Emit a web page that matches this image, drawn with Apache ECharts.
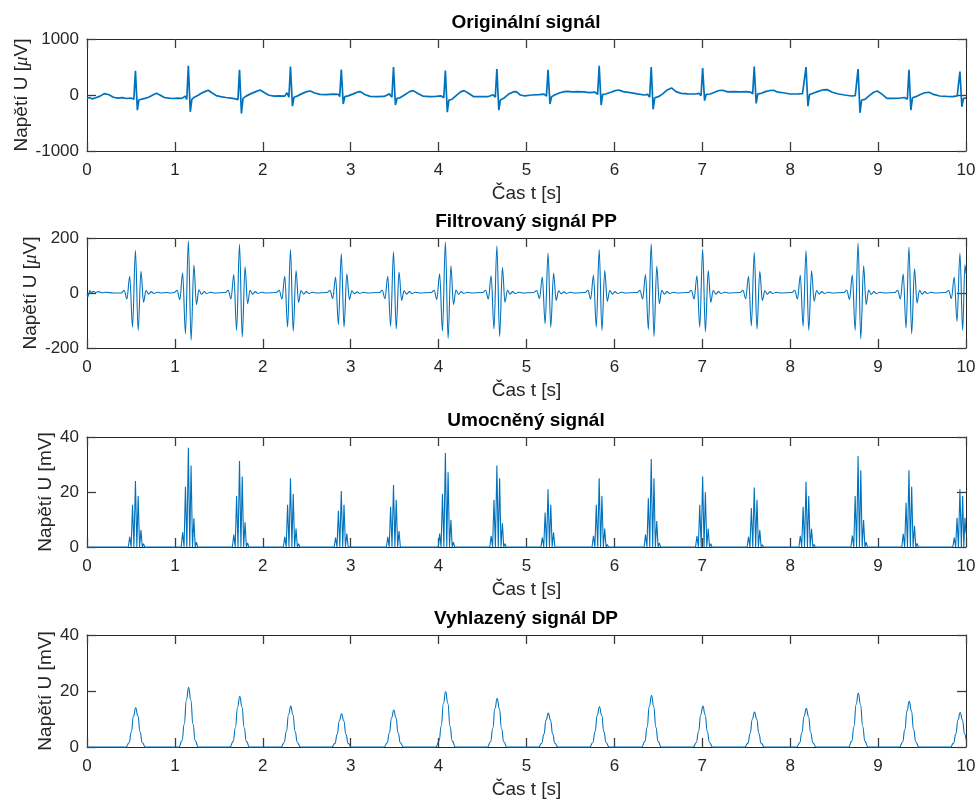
<!DOCTYPE html>
<html>
<head>
<meta charset="utf-8">
<script src="https://cdn.jsdelivr.net/npm/echarts@6/dist/echarts.min.js"></script>
<style>
  html, body { margin: 0; padding: 0; background: #fff; }
  #chart { width: 976px; height: 801px; }
</style>
</head>
<body>
<div id="chart"></div>
<script>
// popisky
var panelTitles = ['Originální signál', 'Filtrovaný signál PP', 'Umocněný signál', 'Vyhlazený signál DP'];
var xName = 'Čas t [s]';
var yNames = ['Napětí U [{m|μ}V]', 'Napětí U [{m|μ}V]', 'Napětí U [mV]', 'Napětí U [mV]'];
var yMin = [-1000, -200, 0, 0];
var yMax = [1000, 200, 40, 40];
var yStep = [1000, 200, 20, 20];

// originální signál [s, uV]
var origPts = [
  [0,-60],[0.03,-45],[0.06,-70],[0.1,-50],[0.15,-20],[0.2,25],[0.25,5],[0.3,-40],[0.35,-55],[0.4,-48],[0.45,-62],[0.5,-55],
  [0.515,-30],[0.533,-75],[0.551,432],[0.573,-270],[0.59,-90],[0.62,-75],[0.66,-60],[0.7,-40],[0.75,0],[0.79,30],[0.83,0],[0.88,-45],[0.93,-55],[0.98,-62],[1.03,-55],[1.08,-60],[1.117,-20],[1.135,-80],
  [1.153,522],[1.175,-300],[1.193,-80],[1.22,-40],[1.26,-10],[1.3,30],[1.34,60],[1.38,84],[1.42,40],[1.47,-10],[1.52,-30],[1.58,-45],[1.64,-55],[1.69,-70],[1.717,-85],
  [1.735,450],[1.757,-330],[1.775,-60],[1.81,-20],[1.86,20],[1.92,60],[1.97,90],[2.02,40],[2.07,-5],[2.13,-20],[2.19,-15],[2.25,-20],[2.275,40],[2.297,-40],
  [2.315,510],[2.337,-200],[2.355,-40],[2.39,-20],[2.44,20],[2.5,60],[2.54,72],[2.59,35],[2.65,10],[2.72,5],[2.8,15],[2.86,10],[2.875,-30],
  [2.893,456],[2.915,-160],[2.933,-30],[2.97,-15],[3.03,20],[3.08,55],[3.11,60],[3.16,10],[3.22,-25],[3.3,-30],[3.38,-25],[3.44,20],[3.469,-40],
  [3.487,498],[3.509,-180],[3.527,-60],[3.56,-50],[3.62,10],[3.67,60],[3.71,78],[3.76,30],[3.82,-20],[3.9,-30],[3.97,-25],[4.03,-15],[4.059,-50],
  [4.077,438],[4.099,-306],[4.117,-90],[4.15,-80],[4.2,-10],[4.25,55],[4.29,78],[4.34,30],[4.4,-30],[4.48,-30],[4.56,-30],[4.62,5],[4.645,-40],
  [4.663,462],[4.685,-270],[4.703,-90],[4.74,-60],[4.8,20],[4.85,55],[4.884,60],[4.93,0],[4.98,-15],[5.06,0],[5.14,5],[5.2,15],[5.227,-20],
  [5.245,450],[5.267,-160],[5.285,-30],[5.32,0],[5.38,40],[5.43,60],[5.47,66],[5.52,55],[5.58,60],[5.65,55],[5.72,42],[5.78,50],[5.809,10],
  [5.827,522],[5.849,-180],[5.867,10],[5.9,18],[5.96,50],[6.01,78],[6.05,90],[6.1,60],[6.18,42],[6.26,20],[6.34,0],[6.38,10],[6.401,-40],
  [6.419,498],[6.441,-258],[6.459,-50],[6.5,-30],[6.55,20],[6.6,90],[6.65,126],[6.7,60],[6.76,30],[6.84,20],[6.92,18],[6.96,30],[6.986,-10],
  [7.004,480],[7.026,-100],[7.044,10],[7.09,18],[7.14,50],[7.19,80],[7.23,84],[7.29,55],[7.36,60],[7.44,55],[7.5,60],[7.55,50],[7.573,20],
  [7.591,510],[7.613,-150],[7.631,20],[7.67,30],[7.72,60],[7.77,80],[7.81,84],[7.86,50],[7.92,40],[8.0,18],[8.08,18],[8.14,25],[8.162,-10],
  [8.18,498],[8.202,-200],[8.22,10],[8.26,30],[8.31,60],[8.37,90],[8.42,96],[8.48,50],[8.55,18],[8.62,0],[8.7,-18],[8.74,-10],[8.754,-40],
  [8.772,462],[8.794,-318],[8.812,-90],[8.85,-78],[8.9,-10],[8.95,50],[8.99,72],[9.04,20],[9.1,-60],[9.17,-62],[9.24,-58],[9.3,-45],[9.333,-75],
  [9.351,450],[9.373,-270],[9.391,-50],[9.43,-30],[9.48,10],[9.53,40],[9.58,48],[9.63,10],[9.7,-18],[9.78,-25],[9.85,-30],[9.9,-15],[9.913,-50],
  [9.931,420],[9.953,-210],[9.971,-60],[10,-55]
];

// filtrovaný signál PP [s, uV]
var filtPts = [
  [0,-4],[0.012,-14],[0.03,9],[0.05,1],[0.07,6],[0.1,2],[0.13,5],[0.17,1],[0.21,3],[0.3,0],
  [0.39,0],[0.423,10],[0.454,-22],[0.486,61],[0.518,-124],[0.551,155],[0.582,-136],[0.614,79],[0.643,-34],[0.671,9],[0.701,-4],[0.731,5],[0.761,-2],[0.801,3],[0.841,0],[0.9,2],[0.95,0],
  [0.993,2],[1.025,10],[1.056,-24],[1.088,73],[1.120,-148],[1.153,190],[1.184,-172],[1.216,102],[1.245,-42],[1.273,12],[1.303,-5],[1.333,5],[1.363,-2],[1.403,3],[1.443,0],
  [1.575,2],[1.607,10],[1.638,-22],[1.670,67],[1.702,-136],[1.735,177],[1.766,-160],[1.798,95],[1.827,-39],[1.855,10],[1.885,-4],[1.915,5],[1.945,-2],[1.985,3],[2.025,0],
  [2.155,2],[2.187,10],[2.218,-22],[2.250,61],[2.282,-124],[2.315,158],[2.346,-139],[2.378,82],[2.407,-34],[2.435,9],[2.465,-4],[2.495,5],[2.525,-2],[2.565,3],[2.605,0],
  [2.733,2],[2.765,9],[2.796,-20],[2.828,58],[2.860,-115],[2.893,143],[2.924,-124],[2.956,70],[2.985,-24],[3.013,8],[3.043,-3],[3.073,4],[3.103,-2],[3.143,3],[3.183,0],
  [3.327,2],[3.359,10],[3.390,-21],[3.422,61],[3.454,-121],[3.487,150],[3.518,-131],[3.550,76],[3.579,-27],[3.607,8],[3.637,-4],[3.667,5],[3.697,-2],[3.737,3],[3.777,0],
  [3.917,2],[3.949,10],[3.980,-23],[4.012,70],[4.044,-139],[4.077,185],[4.108,-165],[4.140,99],[4.169,-42],[4.197,11],[4.227,-5],[4.257,5],[4.287,-2],[4.327,3],[4.367,0],
  [4.503,2],[4.535,10],[4.566,-22],[4.598,63],[4.630,-131],[4.663,172],[4.694,-158],[4.726,93],[4.755,-34],[4.783,10],[4.813,-4],[4.843,5],[4.873,-2],[4.913,3],[4.953,0],
  [5.085,2],[5.117,9],[5.148,-20],[5.180,58],[5.212,-112],[5.245,145],[5.276,-124],[5.308,73],[5.337,-27],[5.365,8],[5.395,-3],[5.425,4],[5.455,-2],[5.495,3],[5.535,0],
  [5.667,2],[5.699,10],[5.730,-22],[5.762,64],[5.794,-124],[5.827,158],[5.858,-136],[5.890,82],[5.919,-30],[5.947,9],[5.977,-4],[6.007,5],[6.037,-2],[6.077,3],[6.117,0],
  [6.259,2],[6.291,10],[6.322,-22],[6.354,67],[6.386,-133],[6.419,179],[6.450,-158],[6.482,97],[6.511,-39],[6.539,10],[6.569,-4],[6.599,5],[6.629,-2],[6.669,3],[6.709,0],
  [6.844,2],[6.876,10],[6.907,-22],[6.939,63],[6.971,-124],[7.004,160],[7.035,-141],[7.067,82],[7.096,-34],[7.124,9],[7.154,-4],[7.184,5],[7.214,-2],[7.254,3],[7.294,0],
  [7.431,2],[7.463,10],[7.494,-21],[7.526,61],[7.558,-119],[7.591,147],[7.622,-131],[7.654,79],[7.683,-28],[7.711,8],[7.741,-4],[7.771,5],[7.801,-2],[7.841,3],[7.881,0],
  [8.020,2],[8.052,10],[8.083,-22],[8.115,64],[8.147,-121],[8.180,154],[8.211,-136],[8.243,81],[8.272,-30],[8.300,9],[8.330,-4],[8.360,5],[8.390,-2],[8.430,3],[8.470,0],
  [8.612,2],[8.644,10],[8.675,-23],[8.707,65],[8.739,-136],[8.772,182],[8.803,-167],[8.835,99],[8.864,-42],[8.892,11],[8.922,-5],[8.952,5],[8.982,-2],[9.022,3],[9.062,0],
  [9.191,2],[9.223,10],[9.254,-22],[9.286,69],[9.318,-127],[9.351,167],[9.382,-148],[9.414,88],[9.443,-36],[9.471,10],[9.501,-4],[9.531,5],[9.561,-2],[9.601,3],[9.641,0],
  [9.771,2],[9.803,9],[9.834,-20],[9.866,58],[9.898,-103],[9.931,145],[9.962,-136],[9.988,103],[10,70]
];

// umocněný signál [s, mV]
var sqPts = [
  [0,0],
  [0.439,0],[0.454,0.5],[0.470,0],[0.486,3.7],[0.502,0],[0.518,15.4],[0.534,0],[0.551,24.0],[0.567,0],[0.582,18.5],[0.598,0],[0.614,6.2],[0.629,0],[0.643,1.2],[0.657,0],
  [1.041,0],[1.056,0.6],[1.072,0],[1.088,5.3],[1.104,0],[1.120,21.9],[1.136,0],[1.153,36.1],[1.169,0],[1.184,29.6],[1.200,0],[1.216,10.4],[1.231,0],[1.245,1.8],[1.259,0],
  [1.623,0],[1.638,0.5],[1.654,0],[1.670,4.5],[1.686,0],[1.702,18.5],[1.718,0],[1.735,31.3],[1.751,0],[1.766,25.6],[1.782,0],[1.798,9.0],[1.813,0],[1.827,1.5],[1.841,0],
  [2.203,0],[2.218,0.5],[2.234,0],[2.250,3.7],[2.266,0],[2.282,15.4],[2.298,0],[2.315,25.0],[2.331,0],[2.346,19.3],[2.362,0],[2.378,6.7],[2.393,0],[2.407,1.2],[2.421,0],
  [2.781,0],[2.796,0.4],[2.812,0],[2.828,3.4],[2.844,0],[2.860,13.2],[2.876,0],[2.893,20.4],[2.909,0],[2.924,15.4],[2.940,0],[2.956,4.9],[2.971,0],[2.985,0.6],[2.999,0],
  [3.375,0],[3.390,0.4],[3.406,0],[3.422,3.7],[3.438,0],[3.454,14.6],[3.470,0],[3.487,22.5],[3.503,0],[3.518,17.2],[3.534,0],[3.550,5.8],[3.565,0],[3.579,0.7],[3.593,0],
  [3.965,0],[3.980,0.5],[3.996,0],[4.012,4.9],[4.028,0],[4.044,19.3],[4.060,0],[4.077,34.2],[4.093,0],[4.108,27.2],[4.124,0],[4.140,9.8],[4.155,0],[4.169,1.8],[4.183,0],
  [4.551,0],[4.566,0.5],[4.582,0],[4.598,4.0],[4.614,0],[4.630,17.2],[4.646,0],[4.663,29.6],[4.679,0],[4.694,25.0],[4.710,0],[4.726,8.6],[4.741,0],[4.755,1.2],[4.769,0],
  [5.133,0],[5.148,0.4],[5.164,0],[5.180,3.4],[5.196,0],[5.212,12.5],[5.228,0],[5.245,21.0],[5.261,0],[5.276,15.4],[5.292,0],[5.308,5.3],[5.323,0],[5.337,0.7],[5.351,0],
  [5.715,0],[5.730,0.5],[5.746,0],[5.762,4.1],[5.778,0],[5.794,15.4],[5.810,0],[5.827,25.0],[5.843,0],[5.858,18.5],[5.874,0],[5.890,6.7],[5.905,0],[5.919,0.9],[5.933,0],
  [6.307,0],[6.322,0.5],[6.338,0],[6.354,4.5],[6.370,0],[6.386,17.7],[6.402,0],[6.419,32.0],[6.435,0],[6.450,25.0],[6.466,0],[6.482,9.4],[6.497,0],[6.511,1.5],[6.525,0],
  [6.892,0],[6.907,0.5],[6.923,0],[6.939,4.0],[6.955,0],[6.971,15.4],[6.987,0],[7.004,25.6],[7.020,0],[7.035,19.9],[7.051,0],[7.067,6.7],[7.082,0],[7.096,1.2],[7.110,0],
  [7.479,0],[7.494,0.4],[7.510,0],[7.526,3.7],[7.542,0],[7.558,14.2],[7.574,0],[7.591,21.6],[7.607,0],[7.622,17.2],[7.638,0],[7.654,6.2],[7.669,0],[7.683,0.8],[7.697,0],
  [8.068,0],[8.083,0.5],[8.099,0],[8.115,4.1],[8.131,0],[8.147,14.6],[8.163,0],[8.180,23.7],[8.196,0],[8.211,18.5],[8.227,0],[8.243,6.6],[8.258,0],[8.272,0.9],[8.286,0],
  [8.660,0],[8.675,0.5],[8.691,0],[8.707,4.2],[8.723,0],[8.739,18.5],[8.755,0],[8.772,33.1],[8.788,0],[8.803,27.9],[8.819,0],[8.835,9.8],[8.850,0],[8.864,1.8],[8.878,0],
  [9.239,0],[9.254,0.5],[9.270,0],[9.286,4.8],[9.302,0],[9.318,16.1],[9.334,0],[9.351,27.9],[9.367,0],[9.382,21.9],[9.398,0],[9.414,7.7],[9.429,0],[9.443,1.3],[9.457,0],
  [9.819,0],[9.834,0.4],[9.850,0],[9.866,3.4],[9.882,0],[9.898,10.6],[9.914,0],[9.931,21.0],[9.947,0],[9.962,18.5],[9.975,0],[9.988,10.6],[10,4.9]
];

// vyhlazený signál DP [s, mV]
var smoothPts = [
  [0,0],
  [0.444,0],[0.479,1.5],[0.504,5.3],[0.529,11.1],[0.554,14.0],[0.579,11.1],[0.604,5.3],[0.629,1.5],[0.664,0],
  [1.046,0],[1.081,2.3],[1.106,8.1],[1.131,16.8],[1.156,21.3],[1.181,16.8],[1.206,8.1],[1.231,2.3],[1.266,0],
  [1.628,0],[1.663,2.0],[1.688,6.9],[1.713,14.3],[1.738,18.1],[1.763,14.3],[1.788,6.9],[1.813,2.0],[1.848,0],
  [2.208,0],[2.243,1.6],[2.268,5.5],[2.293,11.5],[2.318,14.6],[2.343,11.5],[2.368,5.5],[2.393,1.6],[2.428,0],
  [2.786,0],[2.821,1.3],[2.846,4.5],[2.871,9.4],[2.896,11.9],[2.921,9.4],[2.946,4.5],[2.971,1.3],[3.006,0],
  [3.380,0],[3.415,1.5],[3.440,5.0],[3.465,10.4],[3.490,13.2],[3.515,10.4],[3.540,5.0],[3.565,1.5],[3.600,0],
  [3.970,0],[4.005,2.2],[4.030,7.5],[4.055,15.6],[4.080,19.8],[4.105,15.6],[4.130,7.5],[4.155,2.2],[4.190,0],
  [4.556,0],[4.591,1.9],[4.616,6.6],[4.641,13.7],[4.666,17.4],[4.691,13.7],[4.716,6.6],[4.741,1.9],[4.776,0],
  [5.138,0],[5.173,1.3],[5.198,4.6],[5.223,9.6],[5.248,12.1],[5.273,9.6],[5.298,4.6],[5.323,1.3],[5.358,0],
  [5.720,0],[5.755,1.6],[5.780,5.5],[5.805,11.4],[5.830,14.4],[5.855,11.4],[5.880,5.5],[5.905,1.6],[5.940,0],
  [6.312,0],[6.347,2.0],[6.372,7.0],[6.397,14.5],[6.422,18.4],[6.447,14.5],[6.472,7.0],[6.497,2.0],[6.532,0],
  [6.897,0],[6.932,1.6],[6.957,5.5],[6.982,11.5],[7.007,14.6],[7.032,11.5],[7.057,5.5],[7.082,1.6],[7.117,0],
  [7.484,0],[7.519,1.4],[7.544,4.8],[7.569,9.9],[7.594,12.5],[7.619,9.9],[7.644,4.8],[7.669,1.4],[7.704,0],
  [8.073,0],[8.108,1.5],[8.133,5.2],[8.158,10.9],[8.183,13.8],[8.208,10.9],[8.233,5.2],[8.258,1.5],[8.293,0],
  [8.665,0],[8.700,2.1],[8.725,7.3],[8.750,15.2],[8.775,19.3],[8.800,15.2],[8.825,7.3],[8.850,2.1],[8.885,0],
  [9.244,0],[9.279,1.8],[9.304,6.2],[9.329,12.9],[9.354,16.3],[9.379,12.9],[9.404,6.2],[9.429,1.8],[9.464,0],
  [9.824,0],[9.859,1.4],[9.884,4.7],[9.909,9.7],[9.934,12.3],[9.959,9.7],[9.984,4.7],[10,2.6]
];

var seriesData = [origPts, filtPts, sqPts, smoothPts];

var FONT = 'Liberation Sans, Arial, sans-serif';
var AX = '#262626';
var TICK = '#3c3c3c';
var BLUE = '#0072BD';

// rozmístění panelů (px)
var gridTop = [39, 238, 437, 635];
var gridH = [112, 110, 110, 112];
var yNameGap = [56, 47, 32, 32];

var chart = echarts.init(document.getElementById('chart'), null, { renderer: 'canvas' });

var grids = [], xAxes = [], yAxes = [], series = [], graphics = [];
for (var i = 0; i < 4; i++) {
  grids.push({ left: 87, right: 10, top: gridTop[i], height: gridH[i], containLabel: false, outerBoundsMode: 'none' });
}
function plain(v) { return String(v); }
// spodní osy x
for (var i = 0; i < 4; i++) {
  xAxes.push({
    type: 'value', gridIndex: i, min: 0, max: 10, interval: 1, position: 'bottom',
    name: xName, nameLocation: 'middle', nameGap: 33, nameMoveOverlap: false,
    nameTextStyle: { color: AX, fontSize: 19, fontFamily: FONT },
    axisLine: { show: true, onZero: false, lineStyle: { color: AX, width: 1 } },
    axisTick: { show: true, inside: true, length: 9, lineStyle: { color: TICK, width: 1.3 } },
    axisLabel: { color: AX, fontSize: 17, fontFamily: FONT, margin: 11, formatter: plain },
    splitLine: { show: false }
  });
}
// horní osy x (jen rámeček a ticky)
for (var i = 0; i < 4; i++) {
  xAxes.push({
    type: 'value', gridIndex: i, min: 0, max: 10, interval: 1, position: 'top',
    axisLine: { show: true, onZero: false, lineStyle: { color: AX, width: 1 } },
    axisTick: { show: true, inside: true, length: 9, lineStyle: { color: TICK, width: 1.3 } },
    axisLabel: { show: false }, splitLine: { show: false }
  });
}
for (var i = 0; i < 4; i++) {
  yAxes.push({
    type: 'value', gridIndex: i, min: yMin[i], max: yMax[i], interval: yStep[i], position: 'left',
    name: yNames[i], nameLocation: 'middle', nameGap: yNameGap[i], nameMoveOverlap: false,
    nameTextStyle: {
      color: AX, fontSize: 19, fontFamily: FONT,
      rich: { m: { fontSize: 19, fontStyle: 'italic', fontFamily: 'Liberation Serif, serif', color: AX } }
    },
    axisLine: { show: true, onZero: false, lineStyle: { color: AX, width: 1 } },
    axisTick: { show: true, inside: true, length: 9, lineStyle: { color: TICK, width: 1.3 } },
    axisLabel: { color: AX, fontSize: 17, fontFamily: FONT, margin: 8, formatter: plain },
    splitLine: { show: false }
  });
}
for (var i = 0; i < 4; i++) {
  yAxes.push({
    type: 'value', gridIndex: i, min: yMin[i], max: yMax[i], interval: yStep[i], position: 'right',
    axisLine: { show: true, onZero: false, lineStyle: { color: AX, width: 1 } },
    axisTick: { show: true, inside: true, length: 9, lineStyle: { color: TICK, width: 1.3 } },
    axisLabel: { show: false }, splitLine: { show: false }
  });
}
for (var i = 0; i < 4; i++) {
  series.push({
    type: 'line', xAxisIndex: i, yAxisIndex: i, data: seriesData[i],
    showSymbol: false, symbol: 'none', clip: false, z: 5,
    smooth: (i === 1 ? 0.35 : (i === 3 ? 0.5 : false)), smoothMonotone: 'x',
    lineStyle: { color: BLUE, width: (i === 0 ? 1.7 : 1.1) }
  });
  graphics.push({
    type: 'text', x: 526, y: gridTop[i] - 16,
    style: { text: panelTitles[i], fill: '#000', font: 'bold 19px ' + FONT, textAlign: 'center', textVerticalAlign: 'middle' }
  });
}

chart.setOption({
  animation: false,
  backgroundColor: '#fff',
  grid: grids,
  xAxis: xAxes,
  yAxis: yAxes,
  series: series,
  graphic: graphics
});
</script>
</body>
</html>
